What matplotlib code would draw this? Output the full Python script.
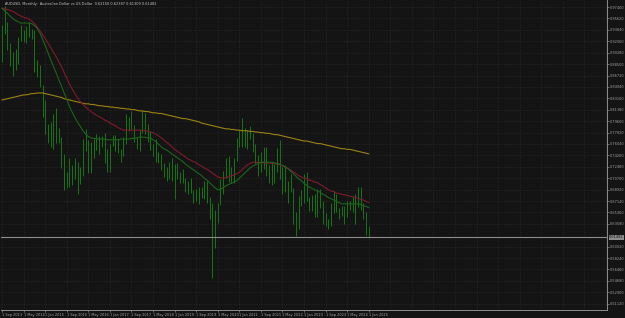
import matplotlib
matplotlib.use("Agg")
import matplotlib.pyplot as plt

# monthly bars, Sep 2013 .. Jan 2025 (month index 0 = Sep 2013)
highs = [0.9459, 0.9758, 0.9500, 0.9174,
         0.9040, 0.9083, 0.9270, 0.9460, 0.9380, 0.9450, 0.9505, 0.9400, 0.9380, 0.8910, 0.8830, 0.8530,
         0.8290, 0.7910, 0.7940, 0.8070, 0.8160, 0.7850, 0.7720, 0.7440, 0.7160, 0.7380, 0.7270, 0.7380,
         0.7325, 0.7240, 0.7680, 0.7835, 0.7660, 0.7640, 0.7680, 0.7760, 0.7730, 0.7730, 0.7780, 0.7530,
         0.7610, 0.7740, 0.7750, 0.7680, 0.7520, 0.7720, 0.8070, 0.8030, 0.8125, 0.7900, 0.7720, 0.7830,
         0.8136, 0.8080, 0.7920, 0.7810, 0.7600, 0.7680, 0.7480, 0.7450, 0.7310, 0.7240, 0.7320, 0.7390,
         0.7290, 0.7300, 0.7170, 0.7210, 0.7070, 0.7020, 0.7080, 0.6880, 0.6900, 0.6930, 0.6930, 0.7030,
         0.7030, 0.6770, 0.6685, 0.6570, 0.6680, 0.7065, 0.7190, 0.7380, 0.7415, 0.7240, 0.7380, 0.7700,
         0.7820, 0.8007, 0.7850, 0.7820, 0.7890, 0.7780, 0.7600, 0.7430, 0.7480, 0.7550, 0.7560, 0.7280,
         0.7310, 0.7290, 0.7540, 0.7660, 0.7250, 0.7280, 0.7030, 0.7140, 0.6920, 0.6550, 0.6800, 0.6890,
         0.7140, 0.7160, 0.6780, 0.6810, 0.6820, 0.6900, 0.6900, 0.6720, 0.6520, 0.6440, 0.6680, 0.6870,
         0.6830, 0.6600, 0.6640, 0.6640, 0.6710, 0.6720, 0.6800, 0.6820, 0.6940, 0.6940, 0.6690, 0.6550,
         0.6330]
lows = [0.8888, 0.9312, 0.9063, 0.8820,
        0.8660, 0.8764, 0.8846, 0.9210, 0.9200, 0.9180, 0.9280, 0.9240, 0.8725, 0.8641, 0.8500, 0.8030,
        0.7755, 0.7625, 0.7560, 0.7530, 0.7620, 0.7620, 0.7235, 0.6890, 0.6910, 0.6940, 0.6970, 0.7060,
        0.6827, 0.6975, 0.7110, 0.7490, 0.7145, 0.7150, 0.7380, 0.7510, 0.7440, 0.7550, 0.7310, 0.7160,
        0.7160, 0.7580, 0.7490, 0.7470, 0.7330, 0.7420, 0.7600, 0.7810, 0.7830, 0.7640, 0.7530, 0.7500,
        0.7770, 0.7760, 0.7640, 0.7510, 0.7410, 0.7320, 0.7310, 0.7200, 0.7085, 0.7020, 0.7050, 0.7020,
        0.6740, 0.7050, 0.7000, 0.7000, 0.6860, 0.6830, 0.6840, 0.6680, 0.6710, 0.6670, 0.6755, 0.6750,
        0.6680, 0.6430, 0.5510, 0.5980, 0.6370, 0.6650, 0.6830, 0.7080, 0.7005, 0.7000, 0.6990, 0.7340,
        0.7560, 0.7560, 0.7560, 0.7530, 0.7680, 0.7480, 0.7290, 0.7100, 0.7170, 0.7220, 0.7110, 0.6990,
        0.6970, 0.7000, 0.7170, 0.7050, 0.6830, 0.6850, 0.6680, 0.6860, 0.6360, 0.6170, 0.6270, 0.6630,
        0.6690, 0.6720, 0.6560, 0.6560, 0.6460, 0.6460, 0.6600, 0.6360, 0.6330, 0.6270, 0.6320, 0.6530,
        0.6550, 0.6440, 0.6480, 0.6360, 0.6470, 0.6570, 0.6540, 0.6350, 0.6620, 0.6580, 0.6440, 0.6180,
        0.6130]

# moving averages, one value per month
ma_fast = [0.972, 0.968, 0.964, 0.960, 0.956, 0.953, 0.951, 0.949, 0.949, 0.949, 0.949, 0.948,
           0.945, 0.941, 0.934, 0.924, 0.914, 0.903, 0.892, 0.882, 0.872, 0.861, 0.851, 0.840,
           0.830, 0.819, 0.810, 0.802, 0.794, 0.788, 0.781, 0.776, 0.772, 0.770, 0.769, 0.769,
           0.768, 0.768, 0.768, 0.767, 0.767, 0.767, 0.767, 0.767, 0.768, 0.768, 0.768, 0.768,
           0.769, 0.769, 0.770, 0.771, 0.771, 0.771, 0.770, 0.770, 0.767, 0.764, 0.760, 0.756,
           0.753, 0.751, 0.748, 0.745, 0.742, 0.739, 0.736, 0.733, 0.729, 0.726, 0.723, 0.720,
           0.717, 0.714, 0.711, 0.707, 0.704, 0.700, 0.696, 0.692, 0.689, 0.690, 0.692, 0.695,
           0.697, 0.699, 0.701, 0.703, 0.707, 0.711, 0.715, 0.719, 0.723, 0.726, 0.728, 0.730,
           0.732, 0.732, 0.732, 0.732, 0.732, 0.731, 0.730, 0.729, 0.727, 0.725, 0.722, 0.718,
           0.714, 0.710, 0.706, 0.703, 0.699, 0.696, 0.693, 0.691, 0.689, 0.687, 0.685, 0.682,
           0.680, 0.677, 0.675, 0.673, 0.671, 0.669, 0.667, 0.667, 0.667, 0.667, 0.667, 0.667,
           0.667, 0.666, 0.664, 0.663, 0.661]
ma_mid = [0.972, 0.971, 0.970, 0.969, 0.967, 0.965, 0.962, 0.960, 0.958, 0.957, 0.955, 0.952,
          0.948, 0.943, 0.937, 0.931, 0.925, 0.918, 0.911, 0.904, 0.897, 0.889, 0.881, 0.872,
          0.863, 0.854, 0.846, 0.839, 0.832, 0.827, 0.822, 0.818, 0.814, 0.811, 0.808, 0.805,
          0.803, 0.801, 0.798, 0.796, 0.793, 0.791, 0.789, 0.786, 0.784, 0.782, 0.782, 0.782,
          0.782, 0.782, 0.782, 0.782, 0.781, 0.781, 0.780, 0.779, 0.778, 0.776, 0.773, 0.770,
          0.767, 0.763, 0.760, 0.756, 0.752, 0.749, 0.746, 0.743, 0.740, 0.737, 0.735, 0.733,
          0.731, 0.728, 0.726, 0.723, 0.721, 0.718, 0.715, 0.712, 0.709, 0.708, 0.707, 0.708,
          0.709, 0.711, 0.712, 0.714, 0.716, 0.720, 0.724, 0.728, 0.730, 0.732, 0.732, 0.732,
          0.731, 0.731, 0.731, 0.731, 0.730, 0.730, 0.729, 0.728, 0.726, 0.724, 0.722, 0.720,
          0.717, 0.714, 0.711, 0.709, 0.707, 0.706, 0.704, 0.703, 0.701, 0.700, 0.697, 0.695,
          0.692, 0.689, 0.687, 0.686, 0.684, 0.683, 0.682, 0.681, 0.680, 0.679, 0.678, 0.677,
          0.676, 0.674, 0.673, 0.671, 0.669]
ma_slow = [0.829, 0.830, 0.831, 0.832, 0.833, 0.834, 0.835, 0.836, 0.837, 0.837, 0.838, 0.839,
           0.839, 0.840, 0.840, 0.840, 0.839, 0.838, 0.837, 0.836, 0.835, 0.834, 0.833, 0.831,
           0.830, 0.829, 0.828, 0.827, 0.826, 0.825, 0.824, 0.823, 0.823, 0.822, 0.822, 0.821,
           0.820, 0.820, 0.819, 0.819, 0.818, 0.818, 0.817, 0.817, 0.816, 0.816, 0.815, 0.815,
           0.814, 0.814, 0.813, 0.812, 0.812, 0.811, 0.811, 0.810, 0.809, 0.809, 0.808, 0.808,
           0.807, 0.806, 0.805, 0.804, 0.803, 0.802, 0.801, 0.800, 0.800, 0.799, 0.798, 0.797,
           0.796, 0.795, 0.793, 0.792, 0.791, 0.790, 0.789, 0.788, 0.787, 0.786, 0.785, 0.784,
           0.784, 0.783, 0.783, 0.782, 0.782, 0.781, 0.781, 0.781, 0.780, 0.780, 0.779, 0.779,
           0.778, 0.778, 0.777, 0.777, 0.776, 0.775, 0.775, 0.774, 0.773, 0.772, 0.771, 0.770,
           0.769, 0.768, 0.767, 0.766, 0.765, 0.765, 0.764, 0.763, 0.762, 0.761, 0.761, 0.760,
           0.759, 0.758, 0.757, 0.756, 0.755, 0.754, 0.753, 0.753, 0.752, 0.752, 0.751, 0.750,
           0.749, 0.748, 0.747, 0.746, 0.745]

bid = 0.61482
x_labels = ["1 Sep 2013", "1 May 2014", "1 Jan 2015", "1 Sep 2015", "1 May 2016", "1 Jan 2017",
            "1 Sep 2017", "1 May 2018", "1 Jan 2019", "1 Sep 2019", "1 May 2020", "1 Jan 2021",
            "1 Sep 2021", "1 May 2022", "1 Jan 2023", "1 Sep 2023", "1 May 2024", "1 Jan 2025"]
y_ticks = [0.97400, 0.95620, 0.93840, 0.92060, 0.90280, 0.88500, 0.86720, 0.84940, 0.83160,
           0.81380, 0.79600, 0.77820, 0.76040, 0.74260, 0.72480, 0.70700, 0.68920, 0.67140,
           0.65360, 0.63580, 0.60020, 0.58240, 0.56460, 0.54680, 0.52900, 0.51120]
title = "AUDUSD, Monthly:  Australian Dollar vs US Dollar  0.62150 0.62387 0.61309 0.61482"

bg = "#141414"
txt = "#a0a0a0"
fs = 2.5

fig = plt.figure(figsize=(6.25, 3.18), dpi=100, facecolor=bg)
ax = fig.add_axes([0.0016, 0.0252, 0.9696, 0.9748], facecolor=bg)

months = list(range(len(highs)))
ax.vlines(months, lows, highs, color="#187418", linewidth=0.7)
ax.plot(months, ma_slow, color="#9c8214", linewidth=0.8)
ax.plot(months, ma_mid, color="#801a2c", linewidth=0.8)
ax.plot(months, ma_fast, color="#1a661a", linewidth=0.8)
ax.axhline(bid, color="#8c8c8c", linewidth=0.8)

ax.set_xlim(-0.4, 224.4)
ax.set_ylim(0.5014, 0.985)

# grid: every 8 months across the whole width, and at each price tick
grid_x = list(range(0, 225, 8))
for gx in grid_x:
    ax.axvline(gx, color="#2c2c2c", linewidth=0.6, linestyle=(0, (1, 2)), zorder=0)
for gy in y_ticks:
    ax.axhline(gy, color="#2c2c2c", linewidth=0.6, linestyle=(0, (1, 2)), zorder=0)

ax.set_xticks(grid_x[:len(x_labels)])
ax.set_xticklabels(x_labels, fontsize=fs, color=txt, ha="left")
ax.yaxis.tick_right()
ax.set_yticks(y_ticks)
ax.set_yticklabels([f"{v:.5f}" for v in y_ticks], fontsize=fs, color=txt)
ax.tick_params(axis="both", colors="#8c8c8c", length=1.5, width=0.5, pad=0.8)
ax.tick_params(axis="x", labelcolor=txt)
ax.tick_params(axis="y", labelcolor=txt)

for side in ["left", "top"]:
    ax.spines[side].set_visible(False)
for side in ["right", "bottom"]:
    ax.spines[side].set_color("#8c8c8c")
    ax.spines[side].set_linewidth(0.7)

# current price label
ax.annotate(f"{bid:.5f}", xy=(1.0, bid), xycoords=("axes fraction", "data"),
            xytext=(1.5, 0), textcoords="offset points", fontsize=fs, color="#141414",
            va="center", ha="left",
            bbox=dict(boxstyle="square,pad=0.15", fc="#8c8c8c", ec="none"))

ax.text(0.006, 0.993, title, transform=ax.transAxes, fontsize=fs, color="#c8c8c8",
        va="top", ha="left")

fig.savefig("out.png", dpi=100, facecolor=bg)
